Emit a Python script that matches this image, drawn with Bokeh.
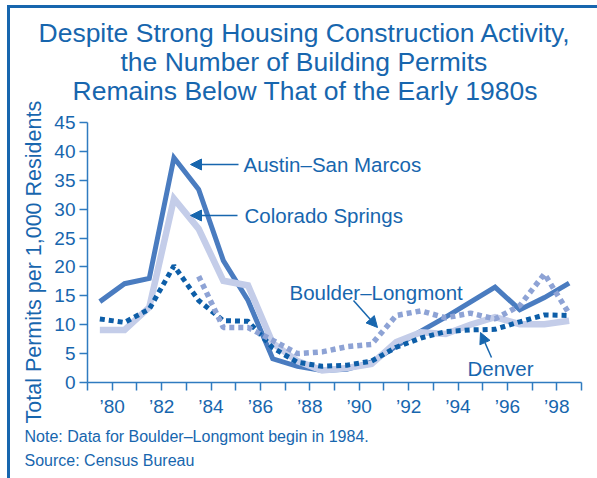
import numpy as np
from bokeh.plotting import figure
from bokeh.models import (Range1d, FixedTicker, Label, Arrow, NormalHead, Title,
                          InlineStyleSheet, LinearAxis)
from bokeh.embed import file_html
from bokeh.resources import INLINE

# ---- data ----
years = list(range(1980, 2000))
austin = [14.0, 17.1, 18.0, 38.9, 33.4, 21.1, 14.2, 4.1, 2.8, 2.1,
          2.3, 3.5, 6.3, 8.9, 11.3, 13.9, 16.5, 12.6, 14.7, 17.2]
colorado = [9.1, 9.1, 13.0, 31.8, 26.6, 17.6, 16.8, 6.8, 3.7, 2.1,
            2.5, 3.2, 7.0, 8.7, 8.4, 10.0, 11.3, 10.1, 10.1, 10.7]
denver = [11.0, 10.4, 12.7, 20.2, 14.2, 10.7, 10.6, 6.0, 3.5, 2.8,
          3.0, 3.7, 6.1, 7.7, 8.8, 9.1, 9.2, 10.5, 11.7, 11.6]
boulder_years = list(range(1984, 2000))
boulder = [18.4, 9.5, 9.5, 7.3, 5.0, 5.3, 6.2, 6.6, 11.6, 12.4,
           11.2, 12.0, 11.0, 13.3, 18.8, 11.9]
tick_years = list(range(1979, 2000))
label_years = list(range(1980, 2000, 2))
tick_labels = ["\u201980", "\u201982", "\u201984", "\u201986", "\u201988",
               "\u201990", "\u201992", "\u201994", "\u201996", "\u201998"]
y_ticks = [0, 5, 10, 15, 20, 25, 30, 35, 40, 45]

title_lines = ["Despite Strong Housing Construction Activity,",
               "the Number of Building Permits",
               "Remains Below That of the Early 1980s"]
y_title = "Total Permits per 1,000 Residents"
notes = ["Note: Data for Boulder\u2013Longmont begin in 1984.",
         "Source: Census Bureau"]

TXT = "#1766ae"
FONT = "Liberation Sans"
W, H = 597, 478
FL, FR, FT, FB = 87, 581, 122, 382
X0, X1, Y0, Y1 = 1979, 1999, 0, 45

p = figure(width=W, height=H, output_backend="svg", toolbar_location=None,
           x_range=Range1d(X0, X1), y_range=Range1d(Y0, Y1),
           min_border_left=FL, min_border_right=W - FR,
           min_border_top=FT, min_border_bottom=H - FB)
p.outline_line_color = None
p.grid.visible = False
p.background_fill_color = "white"
p.border_fill_color = "white"

# page pixel -> data coordinates (for annotation placement)
def px(xp):
    return X0 + (xp - FL) * (X1 - X0) / (FR - FL)

def py(yp):
    return Y1 - (yp - FT) * (Y1 - Y0) / (FB - FT)

for ax in (p.xaxis[0], p.yaxis[0]):
    ax.axis_line_color = "#2f7bc0"
    ax.axis_line_width = 1.5
    ax.major_tick_line_color = "#2f7bc0"
    ax.major_tick_line_width = 1.5
    ax.major_tick_out = 8
    ax.major_tick_in = 0
    ax.minor_tick_line_color = None
    ax.major_label_text_color = TXT
    ax.major_label_text_font = FONT
    ax.major_label_text_font_size = "19px"

p.xaxis.ticker = FixedTicker(ticks=tick_years)
overrides = {y: "" for y in tick_years}
for y, t in zip(label_years, tick_labels):
    overrides[y] = t
p.xaxis.major_label_overrides = overrides
p.xaxis.major_label_standoff = 5
p.yaxis.ticker = FixedTicker(ticks=y_ticks)
p.yaxis.major_label_standoff = 4

xs = np.array(years) - 0.5
xb = np.array(boulder_years) - 0.5
p.line(xs, austin, line_color="#4a7cc0", line_width=5, line_join="miter")
p.line(xs, colorado, line_color="#c4cde9", line_width=6.5, line_join="miter")
p.line(xs, denver, line_color="#0d5ea8", line_width=5, line_dash="5 4")
p.line(xb, boulder, line_color="#8ea3d5", line_width=5.5, line_dash="5 4")

# invisible spacer between plot frame and title block
spacer = LinearAxis(ticker=FixedTicker(ticks=[1989]), axis_line_color=None,
                    major_tick_line_color=None, minor_tick_line_color=None,
                    major_tick_out=18, major_tick_in=0, minor_tick_out=0,
                    major_label_standoff=0, major_label_text_font_size="1px",
                    major_label_text_color=None,
                    major_label_overrides={1989: ""})
p.title = None
p.add_layout(spacer, "above")

# title: three centred lines (left-anchored at their measured starts)
title_left = [38, 120, 72]
for t, lx in reversed(list(zip(title_lines, title_left))):
    p.add_layout(Title(text=t, align="left", offset=lx - FL, standoff=-2.8,
                       text_color=TXT, text_font=FONT, text_font_size="26.5px",
                       text_font_style="normal"), "above")

# y axis title as a left-side title
p.add_layout(Title(text=y_title, align="left", offset=382 - 423, standoff=11,
                   text_color=TXT, text_font=FONT, text_font_size="21.5px",
                   text_font_style="normal"), "left")

# notes below
for i, t in enumerate(notes):
    p.add_layout(Title(text=t, align="left", offset=24 - FL, standoff=-1 if i else 12,
                       text_color=TXT, text_font=FONT, text_font_size="16px",
                       text_font_style="normal"), "below")

# series annotations
ann = [("Austin\u2013San Marcos", 243, 164, (238, 164), (190, 164)),
       ("Colorado Springs", 244, 215, (237, 215), (190, 215)),
       ("Boulder\u2013Longmont", 289, 292, (353, 300), (377, 327)),
       ("Denver", 467, 368, (491, 357), (480, 332))]
for t, tx, ty, a0, a1 in ann:
    p.add_layout(Label(x=px(tx), y=py(ty), text=t, text_align="left",
                       text_baseline="middle", text_color=TXT, text_font=FONT,
                       text_font_size="20.5px"))
    p.add_layout(Arrow(x_start=px(a0[0]), y_start=py(a0[1]),
                       x_end=px(a1[0]), y_end=py(a1[1]),
                       line_color=TXT, line_width=1.5,
                       end=NormalHead(size=11, fill_color=TXT, line_color=TXT)))

# frame border (top and left edges of the graphic)
css = (":host::before{content:'';position:absolute;left:7px;top:5px;width:590px;"
       "height:3px;background:#1766ae;z-index:5;}"
       ":host::after{content:'';position:absolute;left:7px;top:5px;width:3px;"
       "height:473px;background:#1766ae;z-index:5;}")
p.stylesheets = [InlineStyleSheet(css=css)]

open("out.html", "w").write(file_html(p, INLINE))
